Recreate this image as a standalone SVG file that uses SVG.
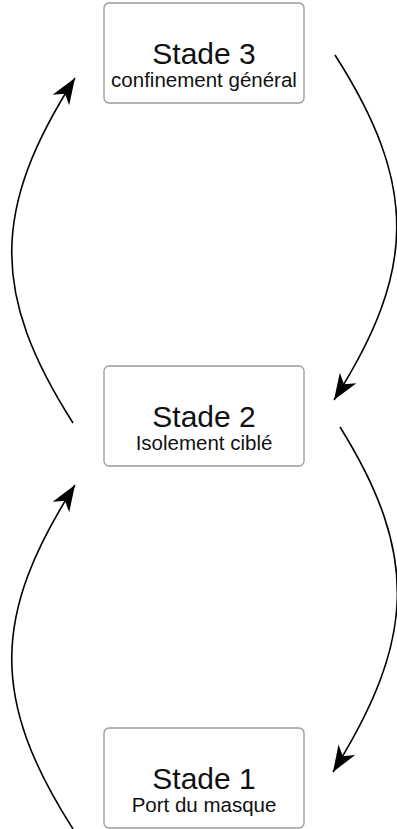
<svg xmlns="http://www.w3.org/2000/svg" width="397" height="829" viewBox="0 0 397 829">
<style>
.box{fill:#ffffff;stroke:#999999;stroke-width:1.3}
.t{font-family:"Liberation Sans",Arial,sans-serif;fill:#111111;text-anchor:middle}
.title{font-size:30px}
.sub{font-size:20.5px}
.edge{fill:none;stroke:#000000;stroke-width:1.6}
</style>
<defs>
<marker id="ah" markerUnits="userSpaceOnUse" markerWidth="30" markerHeight="24" viewBox="-25 -11 27 22" refX="0" refY="0" orient="auto">
<path d="M0,0 L-24,-9 L-17,0 L-24,9 Z" fill="#000000"/>
</marker>
</defs>
<rect width="397" height="829" fill="#ffffff"/>
<g id="connectors">
<path class="edge" marker-end="url(#ah)" d="M73,423 C-10,293 -8,208 75,78"/>
<path class="edge" marker-end="url(#ah)" d="M335,55 C418,185 417,270 334,400"/>
<path class="edge" marker-end="url(#ah)" d="M340,427 C421,557 414,642 333,772"/>
<path class="edge" marker-end="url(#ah)" d="M73,829 C-10,699 -8,615 75,485"/>
</g>
<g id="stade3">
<rect class="box" x="104" y="3" width="200" height="100" rx="5"/>
<text class="t title" x="204" y="64">Stade 3</text>
<text class="t sub" x="204" y="87">confinement général</text>
</g>
<g id="stade2">
<rect class="box" x="104" y="366" width="200" height="100" rx="5"/>
<text class="t title" x="204" y="427">Stade 2</text>
<text class="t sub" x="204" y="450">Isolement ciblé</text>
</g>
<g id="stade1">
<rect class="box" x="104" y="728" width="200" height="100" rx="5"/>
<text class="t title" x="204" y="789">Stade 1</text>
<text class="t sub" x="204" y="812">Port du masque</text>
</g>
</svg>
